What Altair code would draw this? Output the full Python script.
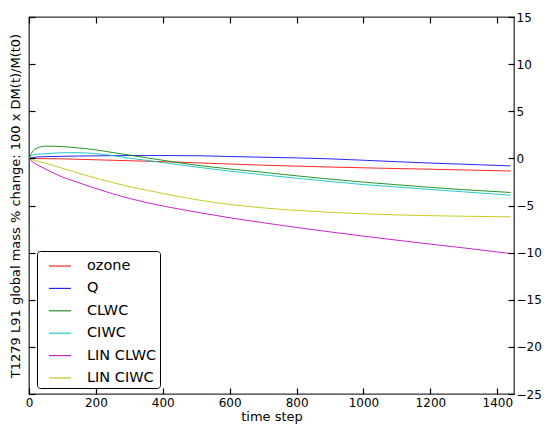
import altair as alt
import pandas as pd

steps = [0, 10, 25, 50, 100, 150, 200, 250, 300, 350, 400, 500, 600, 700, 800, 900, 1000, 1100, 1200, 1300, 1440]

ozone    = [0, -0.01, -0.02, -0.03, -0.05, -0.1, -0.15, -0.2, -0.25, -0.3, -0.35, -0.47, -0.6, -0.72, -0.82, -0.92, -1.0, -1.08, -1.15, -1.23, -1.34]
q        = [0, 0.08, 0.15, 0.18, 0.22, 0.25, 0.27, 0.29, 0.3, 0.3, 0.3, 0.28, 0.2, 0.12, 0.05, -0.05, -0.2, -0.35, -0.5, -0.62, -0.8]
clwc     = [0, 0.7, 1.1, 1.3, 1.25, 1.1, 0.9, 0.62, 0.35, 0.07, -0.2, -0.72, -1.12, -1.48, -1.85, -2.2, -2.52, -2.8, -3.08, -3.32, -3.62]
ciwc     = [0, 0.35, 0.45, 0.5, 0.6, 0.6, 0.5, 0.3, 0.02, -0.2, -0.45, -0.92, -1.35, -1.75, -2.1, -2.45, -2.78, -3.04, -3.3, -3.55, -3.9]
lin_clwc = [0, -0.35, -0.68, -1.15, -1.98, -2.6, -3.2, -3.75, -4.25, -4.68, -5.05, -5.7, -6.3, -6.83, -7.33, -7.8, -8.25, -8.68, -9.1, -9.5, -10.1]
lin_ciwc = [0, -0.15, -0.3, -0.52, -1.05, -1.6, -2.1, -2.57, -3.0, -3.37, -3.72, -4.38, -4.88, -5.25, -5.52, -5.72, -5.88, -6.0, -6.08, -6.14, -6.2]

series_names = ["ozone", "Q", "CLWC", "CIWC", "LIN CLWC", "LIN CIWC"]
series_values = [ozone, q, clwc, ciwc, lin_clwc, lin_ciwc]
series_colors = ["#ff0000", "#0000ff", "#008000", "#00bfbf", "#bf00bf", "#bfbf00"]

x_ticks = [0, 200, 400, 600, 800, 1000, 1200, 1400]
y_ticks = [-25, -20, -15, -10, -5, 0, 5, 10, 15]

rows = []
for name, vals in zip(series_names, series_values):
    for s, v in zip(steps, vals):
        rows.append({"step": s, "value": v, "series": name})
df = pd.DataFrame(rows)

W, H = 485, 377
TL = 6
FONT = "DejaVu Sans"
TICK = "#000000"
xscale = alt.Scale(domain=[0, 1450], nice=False, zero=False)
yscale = alt.Scale(domain=[-25, 15], nice=False, zero=False)

common = dict(grid=False, domain=False, ticks=True, tickSize=TL, tickColor=TICK, tickWidth=1.2,
              tickOpacity=1, offset=-TL, zindex=2, labelFont=FONT, titleFont=FONT,
              labelColor="black", titleColor="black", titleFontWeight="normal",
              labelFontSize=12, titleFontSize=13)

lines = alt.Chart(df).mark_line(strokeWidth=1, opacity=0.85, interpolate="monotone").encode(
    x=alt.X("step:Q", scale=xscale,
            axis=alt.Axis(orient="bottom", title="time step", values=x_ticks, format="d",
                          labelPadding=3, titlePadding=2, labelFlush=False, **common)),
    y=alt.Y("value:Q", scale=yscale,
            axis=alt.Axis(orient="left", title="T1279 L91 global mass % change: 100 x DM(t)/M(t0)",
                          values=y_ticks, labels=False, titlePadding=6, **common)),
    color=alt.Color("series:N",
                    scale=alt.Scale(domain=series_names, range=series_colors),
                    legend=alt.Legend(orient="none", legendX=8, legendY=234, title=None,
                                      symbolType="stroke", symbolSize=484, symbolStrokeWidth=1.2,
                                      labelFontSize=14.5, labelFont=FONT, labelColor="black",
                                      labelOffset=15, rowPadding=3.4, padding=3,
                                      symbolOffset=8,
                                      strokeColor="black", fillColor="white", cornerRadius=3)),
)

frame = alt.Chart(df).mark_point(opacity=0).encode(
    x=alt.X("step:Q", scale=xscale,
            axis=alt.Axis(orient="top", title=None, values=x_ticks, labels=False, **common)),
    y=alt.Y("value:Q", scale=yscale,
            axis=alt.Axis(orient="right", title=None, values=y_ticks, labelPadding=2,
                          labelFlush=False,
                          labelExpr="replace(datum.label, '-', '\u2212')", **common)),
)

chart = alt.layer(lines, frame).resolve_axis(
    y="independent", x="independent"
).properties(
    width=W, height=H,
    autosize=alt.AutoSizeParams(type="none"),
    padding={"left": 29, "top": 17, "right": 31, "bottom": 31},
    background="white",
).configure_view(stroke="#333333", strokeWidth=1.3)

chart.save("out.html", embed_options={"renderer": "svg", "actions": False})
